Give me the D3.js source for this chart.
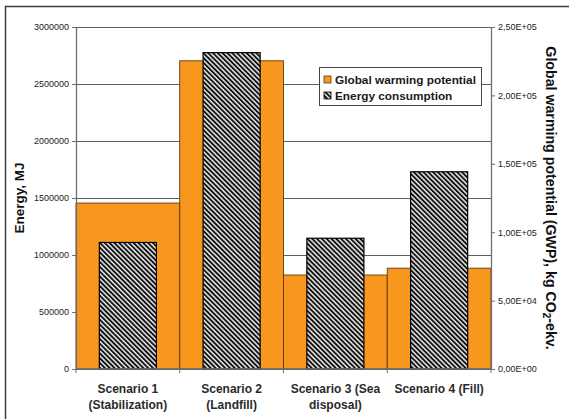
<!DOCTYPE html>
<html>
<head>
<meta charset="utf-8">
<script src="https://cdn.jsdelivr.net/npm/d3@7"></script>
<style>
  body { margin: 0; background: #fff; }
  text { font-family: "Liberation Sans", Arial, sans-serif; }
</style>
</head>
<body>
<svg id="chart" width="569" height="419"></svg>
<script>
// Scenario names (one entry per text line under the axis)
const categories = ["Scenario 1", "Scenario 2", "Scenario 3", "Scenario 4"];
const categoryLines = [
  ["Scenario 1", "(Stabilization)"],
  ["Scenario 2", "(Landfill)"],
  ["Scenario 3 (Sea", "disposal)"],
  ["Scenario 4 (Fill)"]
];

// Global warming potential, kg CO2-ekv. (right axis)
const gwpValues = [121300, 225300, 68700, 73700];
// Energy consumption, MJ (left axis)
const energyValues = [1110000, 2775000, 1147000, 1730000];

const energyTicks = [0, 500000, 1000000, 1500000, 2000000, 2500000, 3000000];
const gwpTicks = [0, 50000, 100000, 150000, 200000, 250000];
const gwpTickLabels = ["0,00E+00", "5,00E+04", "1,00E+05", "1,50E+05", "2,00E+05", "2,50E+05"];

const seriesNames = ["Global warming potential", "Energy consumption"];

const svg = d3.select("#chart");
const plot = { left: 76, right: 491, top: 27, bottom: 369 };

const orange = "#f7971d";

// diagonal hatch for the energy bars
const defs = svg.append("defs");
const pat = defs.append("pattern")
  .attr("id", "hatch")
  .attr("patternUnits", "userSpaceOnUse")
  .attr("width", 3.4).attr("height", 10)
  .attr("patternTransform", "rotate(-45)");
pat.append("rect").attr("width", 3.4).attr("height", 10).attr("fill", "#ececec");
pat.append("rect").attr("width", 1.9).attr("height", 10).attr("fill", "#111");

// outer frame
svg.append("rect")
  .attr("x", 5.5).attr("y", 6.5).attr("width", 620).attr("height", 500)
  .attr("fill", "#fff").attr("stroke", "#3c3c3c").attr("stroke-width", 1.5);

const x = d3.scaleBand().domain(categories).range([plot.left, plot.right]).padding(0);
const yLeft = d3.scaleLinear().domain([0, 3000000]).range([plot.bottom, plot.top]);
const yRight = d3.scaleLinear().domain([0, 250000]).range([plot.bottom, plot.top]);

// horizontal gridlines
svg.append("g")
  .attr("transform", `translate(${plot.left},0)`)
  .call(d3.axisLeft(yLeft).tickValues(energyTicks).tickSize(-(plot.right - plot.left)).tickFormat(""))
  .call(g => g.select(".domain").remove())
  .call(g => g.selectAll("line").attr("stroke", "#5e5e5e").attr("stroke-width", 1));

// GWP bars, full category width
svg.append("g").selectAll("rect")
  .data(gwpValues)
  .join("rect")
  .attr("x", (d, i) => x(categories[i]))
  .attr("width", x.bandwidth())
  .attr("y", d => yRight(d))
  .attr("height", d => yRight(0) - yRight(d))
  .attr("fill", orange)
  .attr("stroke", "#5e3a0c")
  .attr("stroke-width", 0.9);

// Energy bars, narrower and centered
const ew = x.bandwidth() * 0.55;
svg.append("g").selectAll("rect")
  .data(energyValues)
  .join("rect")
  .attr("x", (d, i) => x(categories[i]) + (x.bandwidth() - ew) / 2)
  .attr("width", ew)
  .attr("y", d => yLeft(d))
  .attr("height", d => yLeft(0) - yLeft(d))
  .attr("fill", "url(#hatch)")
  .attr("stroke", "#000")
  .attr("stroke-width", 1.2);

const axisColor = "#707070";
function styleAxis(g) {
  g.select(".domain").attr("stroke", axisColor).attr("stroke-width", 1.3);
  g.selectAll(".tick line").attr("stroke", axisColor);
  g.selectAll("text").attr("fill", "#222").attr("font-size", "9px");
}

// left axis
svg.append("g")
  .attr("transform", `translate(${plot.left},0)`)
  .call(d3.axisLeft(yLeft).tickValues(energyTicks).tickFormat(d3.format("d")).tickSize(4).tickSizeOuter(0).tickPadding(3))
  .call(styleAxis);

// right axis
svg.append("g")
  .attr("transform", `translate(${plot.right},0)`)
  .call(d3.axisRight(yRight).tickValues(gwpTicks).tickFormat((d, i) => gwpTickLabels[i]).tickSize(4).tickSizeOuter(0).tickPadding(3))
  .call(styleAxis);

// bottom axis with ticks between categories
const bottom = svg.append("g").attr("transform", `translate(0,${plot.bottom})`);
bottom.append("line")
  .attr("x1", plot.left).attr("x2", plot.right)
  .attr("stroke", axisColor).attr("stroke-width", 1.3);
const bounds = categories.map(c => x(c)).concat([plot.right]);
bottom.selectAll("line.tk").data(bounds).join("line")
  .attr("class", "tk")
  .attr("x1", d => d).attr("x2", d => d).attr("y1", 0).attr("y2", 4)
  .attr("stroke", axisColor);

// category labels
categoryLines.forEach((lines, i) => {
  const cx = x(categories[i]) + x.bandwidth() / 2;
  const t = svg.append("text")
    .attr("x", cx).attr("y", 393)
    .attr("text-anchor", "middle")
    .attr("font-size", "12px").attr("font-weight", "bold")
    .attr("fill", "#2a2a2a");
  lines.forEach((s, j) => {
    t.append("tspan").attr("x", cx).attr("dy", j === 0 ? 0 : 16).text(s);
  });
});

// axis titles
svg.append("text")
  .attr("transform", `translate(24,${(plot.top + plot.bottom) / 2}) rotate(-90)`)
  .attr("text-anchor", "middle")
  .attr("font-size", "13.5px").attr("font-weight", "bold").attr("fill", "#111")
  .text("Energy, MJ");

const rt = svg.append("text")
  .attr("transform", `translate(546,${(plot.top + plot.bottom) / 2}) rotate(90)`)
  .attr("text-anchor", "middle")
  .attr("font-size", "14.2px").attr("font-weight", "bold").attr("fill", "#111");
rt.append("tspan").text("Global warming potential (GWP), kg CO");
rt.append("tspan").attr("font-size", "10px").attr("dy", 3).text("2");
rt.append("tspan").attr("dy", -3).text("-ekv.");

// legend
const lg = svg.append("g").attr("transform", "translate(319.5,67.5)");
lg.append("rect").attr("width", 162).attr("height", 38)
  .attr("fill", "#fff").attr("stroke", "#444").attr("stroke-width", 1);
const swatchFill = [orange, "url(#hatch)"];
const swatchStroke = ["#5e3a0c", "#000"];
seriesNames.forEach((name, i) => {
  const row = lg.append("g").attr("transform", `translate(4.5,${8.5 + i * 16})`);
  row.append("rect").attr("width", 7).attr("height", 7)
    .attr("fill", swatchFill[i]).attr("stroke", swatchStroke[i]).attr("stroke-width", 0.8);
  row.append("text").attr("x", 11).attr("y", 7.5)
    .attr("font-size", "11.8px").attr("font-weight", "bold").attr("fill", "#1a1a1a")
    .text(name);
});
</script>
</body>
</html>
